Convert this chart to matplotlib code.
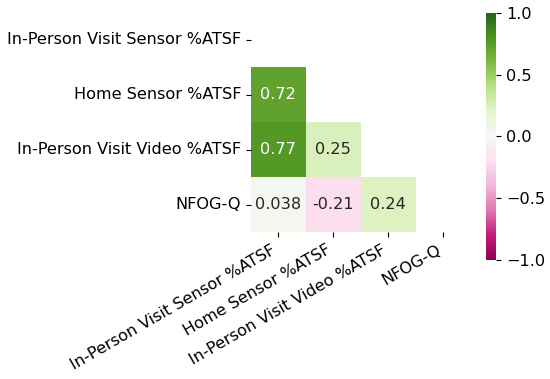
import numpy as np
import matplotlib
matplotlib.use("Agg")
import matplotlib.pyplot as plt
import seaborn as sns

# Etiquetas y matriz de correlación
labels = ["In-Person Visit Sensor %ATSF", "Home Sensor %ATSF",
          "In-Person Visit Video %ATSF", "NFOG-Q"]
corr = np.array([
    [1.00, 0.72, 0.77, 0.038],
    [0.72, 1.00, 0.25, -0.21],
    [0.77, 0.25, 1.00, 0.24],
    [0.038, -0.21, 0.24, 1.00],
])

mask = np.triu(np.ones_like(corr, dtype=bool))

plt.rcParams['font.size'] = 11.6

fig = plt.figure(figsize=(5.5, 3.79), dpi=100)
ax = fig.add_axes([0.456, 0.385, 0.40, 0.584])
cax = fig.add_axes([0.884, 0.314, 0.018, 0.652])

sns.heatmap(corr, mask=mask, cmap="PiYG", vmin=-1, vmax=1, annot=True,
            fmt=".2g", square=True, xticklabels=labels, yticklabels=labels,
            ax=ax, cbar_ax=cax)

ax.set_xticklabels(labels, rotation=30, ha="right")
ax.set_yticklabels(labels, rotation=0)
cax.set_yticks([-1, -0.5, 0, 0.5, 1])

plt.savefig("out.png", dpi=100)
